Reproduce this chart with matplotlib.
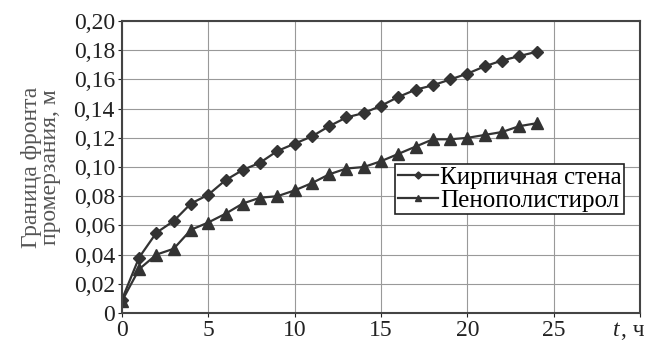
import matplotlib.pyplot as plt
import numpy as np

FAM = 'Liberation Serif'

hours = list(range(0, 25))
brick = [0.009, 0.038, 0.055, 0.063, 0.075, 0.081, 0.091, 0.098, 0.103, 0.111,
         0.116, 0.121, 0.128, 0.134, 0.137, 0.142, 0.148, 0.153, 0.156, 0.160,
         0.164, 0.169, 0.173, 0.176, 0.179]
foam = [0.008, 0.030, 0.040, 0.044, 0.057, 0.062, 0.068, 0.075, 0.079, 0.080,
        0.084, 0.089, 0.095, 0.099, 0.100, 0.104, 0.109, 0.114, 0.119, 0.119,
        0.120, 0.122, 0.124, 0.128, 0.130]
labels = ['Кирпичная стена', 'Пенополистирол']
yticks = [0, 0.02, 0.04, 0.06, 0.08, 0.10, 0.12, 0.14, 0.16, 0.18, 0.20]
xticks = [0, 5, 10, 15, 20, 25]

col = '#333333'
fig = plt.figure(figsize=(6.48, 3.43), dpi=100)
ax = fig.add_axes([0.188, 0.0875, 0.800, 0.851])

ax.plot(hours, brick, color=col, lw=1.6, marker='D', ms=6, label=labels[0])
ax.plot(hours, foam, color=col, lw=1.6, marker='^', ms=8, label=labels[1])

ax.set_xlim(0, 30)
ax.set_ylim(0, 0.20)
ax.set_xticks(xticks + [30])
ax.set_xticklabels([str(x) for x in xticks] + [''], family=FAM, fontsize=17)
ax.set_yticks(yticks)
ax.set_yticklabels(['0'] + ['{:.2f}'.format(v).replace('.', ',') for v in yticks[1:]],
                   family=FAM, fontsize=17)
ax.tick_params(colors='#222222', length=3, width=0.8, pad=2)
ax.grid(True, color='#999999', lw=0.8)
for s in ax.spines.values():
    s.set_color('#444444')
    s.set_linewidth(1.5)

# axis title at the right end of x axis: italic t, then unit
ax.text(1.008, -0.025, ', ч', transform=ax.transAxes, ha='right', va='top',
        fontsize=17, color='#222222', family=FAM)
ax.text(0.961, -0.025, 't', transform=ax.transAxes, ha='right', va='top',
        fontsize=17, color='#222222', family=FAM, style='italic')

ax.set_ylabel('Граница фронта\nпромерзания, м', fontsize=17, color='#555555',
              linespacing=0.85, labelpad=9, family=FAM)

leg = ax.legend(loc='upper left', bbox_to_anchor=(0.527, 0.51),
                prop={'family': FAM, 'size': 18},
                handlelength=1.6, handletextpad=0.1, borderpad=0.1,
                labelspacing=0.0, fancybox=False, markerscale=0.6,
                borderaxespad=0)
leg.get_frame().set_edgecolor('#222222')
leg.get_frame().set_linewidth(1.2)
leg.get_frame().set_alpha(1)

fig.savefig('out.png', dpi=100)
